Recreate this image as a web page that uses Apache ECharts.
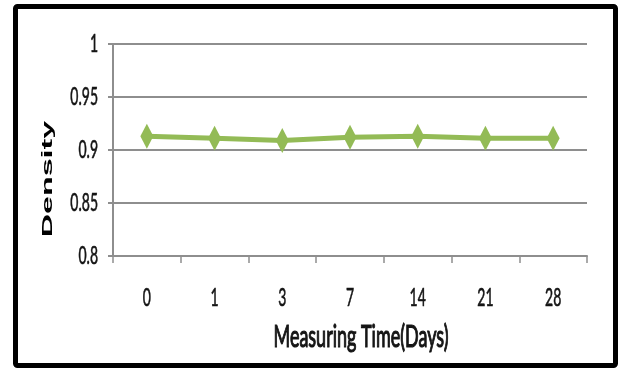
<!DOCTYPE html>
<html>
<head>
<meta charset="utf-8">
<style>
  html, body { margin: 0; padding: 0; background: #ffffff; }
  #chart { width: 619px; height: 368px; }
</style>
<script src="https://cdn.jsdelivr.net/npm/echarts@6/dist/echarts.min.js"></script>
</head>
<body>
<div id="chart"></div>
<script>
// Measurement days and the density recorded on each day
const days = ['0', '1', '3', '7', '14', '21', '28'];
const density = [0.913, 0.911, 0.909, 0.912, 0.913, 0.911, 0.911];
const yTickValues = [0.8, 0.85, 0.9, 0.95, 1];
const yTickLabels = ['0.8', '0.85', '0.9', '0.95', '1'];
const xTitle = 'Measuring Time(Days)';
const yTitle = 'Density';

const chart = echarts.init(document.getElementById('chart'), null, { renderer: 'canvas' });
const labelFont = 'Lato, "Open Sans", "Noto Sans", sans-serif';
const axisGray = '#8e8e8e';

chart.setOption({
  animation: false,
  backgroundColor: '#ffffff',
  grid: { left: 113, right: 32, top: 44, bottom: 112 },
  xAxis: {
    type: 'category',
    data: days,
    boundaryGap: true,
    axisLine: { show: true, lineStyle: { color: axisGray, width: 2 } },
    axisTick: { show: true, length: 7, lineStyle: { color: axisGray, width: 1.5 } },
    axisLabel: { show: false }
  },
  yAxis: {
    type: 'value',
    min: yTickValues[0],
    max: yTickValues[yTickValues.length - 1],
    interval: 0.05,
    axisLine: { show: true, lineStyle: { color: axisGray, width: 2 } },
    axisTick: { show: true, length: 5, lineStyle: { color: axisGray, width: 2 } },
    splitLine: { show: true, lineStyle: { color: axisGray, width: 2 } },
    axisLabel: { show: false }
  },
  series: [{
    type: 'line',
    data: density,
    symbol: 'diamond',
    symbolSize: [13, 25],
    lineStyle: { color: '#93bb56', width: 5 },
    itemStyle: { color: '#93bb56' }
  }]
});

// Tall, narrow lettering: labels are placed from the axis scales and stretched vertically
function tallText(x, y, text, size, sy, align, weight) {
  return {
    type: 'text',
    x: x, y: y,
    scaleY: sy,
    style: {
      text: text,
      fill: '#141414',
      stroke: '#141414',
      lineWidth: weight,
      font: size + 'px ' + labelFont,
      align: align,
      verticalAlign: 'middle'
    },
    silent: true
  };
}

const labels = [];
days.forEach((d, i) => {
  const px = chart.convertToPixel({ xAxisIndex: 0 }, i);
  labels.push(tallText(px, 298, d, 14, 1.8, 'center', 0.35));
});
yTickValues.forEach((v, i) => {
  const py = chart.convertToPixel({ yAxisIndex: 0 }, v);
  labels.push(tallText(98, py, yTickLabels[i], 14, 1.8, 'right', 0.35));
});
labels.push(tallText(361, 337, xTitle, 18, 1.7, 'center', 0.7));

chart.setOption({
  graphic: [
    {
      type: 'rect',
      shape: { x: 15.5, y: 6.5, width: 600, height: 359, r: 2 },
      style: { fill: 'transparent', stroke: '#000', lineWidth: 5 },
      silent: true
    },
    {
      type: 'text',
      x: 48, y: 179,
      rotation: Math.PI / 2,
      scaleX: 2.15,
      style: {
        text: yTitle,
        fill: '#000',
        font: 'bold 15px "Liberation Sans", Arial, sans-serif',
        align: 'center',
        verticalAlign: 'middle'
      },
      silent: true
    }
  ].concat(labels)
});
</script>
</body>
</html>
